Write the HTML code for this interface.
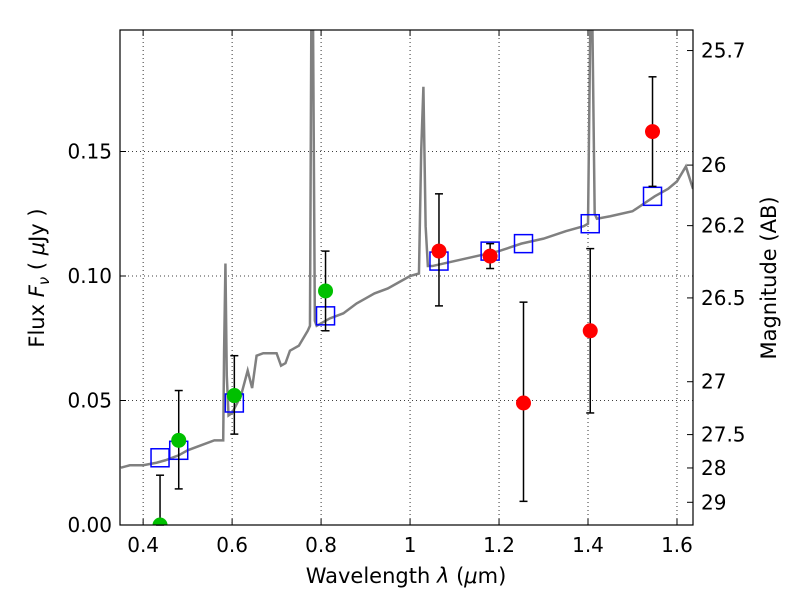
<!DOCTYPE html>
<html><head><meta charset="utf-8"><style>
body{margin:0;background:#fff}
svg{display:block;font-family:"DejaVu Sans","Liberation Sans",sans-serif}
</style></head><body>
<svg id="chart" width="800" height="600" viewBox="0 0 800 600"><defs><clipPath id="pc"><rect x="120" y="30" width="573" height="495"/></clipPath></defs></svg>
<script>
const xTicks=[0.4,0.6,0.8,1.0,1.2,1.4,1.6];
const xTickLabels=["0.4","0.6","0.8","1","1.2","1.4","1.6"];
const yTicks=[0,0.05,0.10,0.15];
const yTickLabels=["0.00","0.05","0.10","0.15"];
const magTicks=[25.7,26,26.2,26.5,27,27.5,28,29];
const specX=[0.35,0.37,0.40,0.43,0.45,0.48,0.50,0.53,0.56,0.58,0.582,0.585,0.588,0.592,0.60,0.62,0.635,0.645,0.655,0.67,0.70,0.71,0.72,0.73,0.75,0.77,0.775,0.778,0.782,0.786,0.79,0.82,0.85,0.88,0.90,0.92,0.95,0.98,1.0,1.02,1.025,1.03,1.035,1.04,1.05,1.1,1.15,1.2,1.25,1.3,1.35,1.39,1.40,1.405,1.41,1.415,1.42,1.45,1.5,1.55,1.58,1.60,1.62,1.636];
const specY=[0.023,0.024,0.024,0.025,0.026,0.028,0.030,0.032,0.034,0.034,0.070,0.105,0.060,0.044,0.045,0.052,0.062,0.055,0.068,0.069,0.069,0.064,0.065,0.070,0.072,0.078,0.080,0.199,0.199,0.082,0.080,0.083,0.085,0.089,0.091,0.093,0.095,0.098,0.100,0.101,0.150,0.176,0.120,0.104,0.104,0.106,0.108,0.110,0.113,0.115,0.118,0.120,0.121,0.199,0.199,0.125,0.123,0.124,0.126,0.132,0.135,0.138,0.144,0.135];
const greenX=[0.438,0.48,0.605,0.81];
const greenY=[0.0,0.034,0.052,0.094];
const greenHi=[0.020,0.054,0.068,0.110];
const greenLo=[0.0,0.0145,0.0365,0.078];
const redX=[1.065,1.18,1.255,1.405,1.545];
const redY=[0.110,0.108,0.049,0.078,0.158];
const redHi=[0.133,0.113,0.0895,0.111,0.180];
const redLo=[0.088,0.103,0.0095,0.045,0.136];
const boxX=[0.438,0.48,0.605,0.81,1.065,1.18,1.255,1.405,1.545];
const boxY=[0.027,0.030,0.049,0.084,0.106,0.110,0.113,0.121,0.132];

const L=120,R=693,T=30,B=525,xmin=0.348,xmax=1.636,ymin=0,ymax=0.1988;
const sx=v=>L+(v-xmin)/(xmax-xmin)*(R-L);
const sy=v=>B-(v-ymin)/(ymax-ymin)*(B-T);
const svg=document.getElementById('chart');
const NS="http://www.w3.org/2000/svg";
function mk(tag,attrs,parent){const e=document.createElementNS(NS,tag);for(const k in attrs)e.setAttribute(k,attrs[k]);(parent||svg).appendChild(e);return e;}
xTicks.forEach((v,i)=>{
 const g=mk('line',{x1:sx(v),x2:sx(v),y1:T,y2:B,stroke:'#000','stroke-dasharray':'1,3','stroke-width':0.8});
 
 
 mk('line',{x1:sx(v),x2:sx(v),y1:B,y2:B-6,stroke:'#000'});
 mk('line',{x1:sx(v),x2:sx(v),y1:T,y2:T+6,stroke:'#000'});
 const t=mk('text',{x:sx(v),y:B+27,'font-size':20,'text-anchor':'middle'});t.textContent=xTickLabels[i];
 
 
});
yTicks.forEach((v,i)=>{
 const g=mk('line',{x1:L,x2:R,y1:sy(v),y2:sy(v),stroke:'#000','stroke-dasharray':'1,3','stroke-width':0.8});
 
 
 mk('line',{x1:L,x2:L+6,y1:sy(v),y2:sy(v),stroke:'#000'});
 const t=mk('text',{x:L-8,y:sy(v)+7,'font-size':20,'text-anchor':'end'});t.textContent=yTickLabels[i];
 
 
});
magTicks.forEach(m=>{
 const f=Math.pow(10,(23.9-m)/2.5);const y=sy(f);
 mk('line',{x1:R,x2:R-6,y1:y,y2:y,stroke:'#000'});
 const t=mk('text',{x:R+8,y:y+7,'font-size':20});t.textContent=String(m);
 
 
});
const sp=mk('polyline',{points:specX.map((v,i)=>sx(v)+','+sy(specY[i])).join(' '),fill:'none',stroke:'#808080','stroke-width':2.5,'clip-path':'url(#pc)'});


boxX.forEach((v,i)=>{
 const r=mk('rect',{x:sx(v)-9,y:sy(boxY[i])-9,width:18,height:18,fill:'none',stroke:'#0000ff','stroke-width':1.5});
 
 
});
function pts(X,Y,Hi,Lo,col,name){
 X.forEach((v,i)=>{
  const x=sx(v);
  mk('line',{x1:x,x2:x,y1:sy(Hi[i]),y2:sy(Lo[i]),stroke:'#000','stroke-width':1.5});
  mk('line',{x1:x-4,x2:x+4,y1:sy(Hi[i]),y2:sy(Hi[i]),stroke:'#000','stroke-width':1.5});
  mk('line',{x1:x-4,x2:x+4,y1:sy(Lo[i]),y2:sy(Lo[i]),stroke:'#000','stroke-width':1.5});
  const c=mk('circle',{cx:x,cy:sy(Y[i]),r:7.5,fill:col,'clip-path':'url(#pc)'});
  
  
 });
}
pts(greenX,greenY,greenHi,greenLo,'#00c000','green-data-point');
pts(redX,redY,redHi,redLo,'#ff0000','red-data-point');
const fr=mk('rect',{x:L,y:T,width:R-L,height:B-T,fill:'none',stroke:'#000','stroke-width':1.2});


</script>
<svg style="position:absolute;left:0;top:0" width="800" height="600">
<text x="406" y="583" font-size="21" text-anchor="middle">Wavelength  <tspan font-style="italic">λ</tspan> (<tspan font-style="italic">μ</tspan>m)</text>
<text transform="translate(44,278) rotate(-90)" font-size="21" text-anchor="middle">Flux  <tspan font-style="italic">F</tspan><tspan font-style="italic" font-size="15" dy="5">ν</tspan><tspan dy="-5">  ( </tspan><tspan font-style="italic">μ</tspan>Jy )</text>
<text transform="translate(776,278) rotate(-90)" font-size="21" text-anchor="middle">Magnitude (AB)</text>
</svg>
</body></html>
